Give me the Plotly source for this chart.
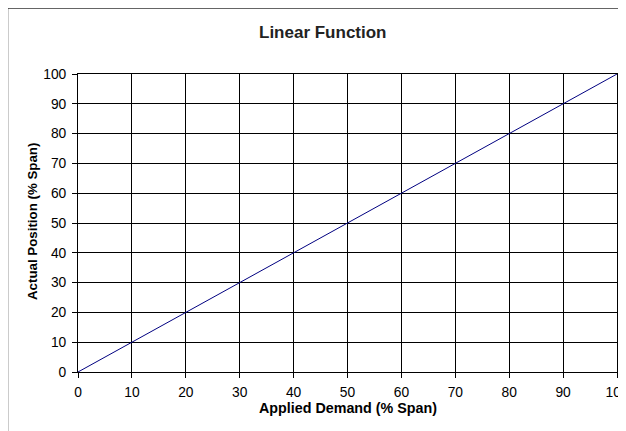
import plotly.graph_objects as go

# Data
applied_demand = [0, 10, 20, 30, 40, 50, 60, 70, 80, 90, 100]
actual_position = [0, 10, 20, 30, 40, 50, 60, 70, 80, 90, 100]
tick_values = [0, 10, 20, 30, 40, 50, 60, 70, 80, 90, 100]

title_text = "Linear Function"
x_title = "Applied Demand (% Span)"
y_title = "Actual Position (% Span)"

FONT = "Liberation Sans, Arial, sans-serif"

fig = go.Figure()
fig.add_trace(go.Scatter(
    x=applied_demand, y=actual_position, mode="lines",
    line=dict(color="#000080", width=1), showlegend=False,
))

axis_common = dict(
    range=[0, 100], tickvals=tick_values, ticks="outside", ticklen=5,
    tickcolor="#000", tickwidth=1,
    showgrid=True, gridcolor="#000", gridwidth=1,
    showline=True, linecolor="#000", linewidth=1, mirror=True,
    zeroline=False, tickfont=dict(family=FONT, size=13.8, color="#000"),
    fixedrange=True, ticklabeloverflow="allow", automargin=False,
)

fig.update_xaxes(**axis_common, ticklabelstandoff=2)
fig.update_yaxes(**axis_common, ticklabelstandoff=3)

# page has an 8px body margin, so figure coordinates = screen - 8
OFF = 8
W, H = 626 - OFF, 431 - OFF
L, R, T, B = 78 - OFF, 617 - OFF, 74 - OFF, 372 - OFF


def px(xs):
    return (xs - OFF - L) / (R - L)


def py(ys):
    return (B - (ys - OFF)) / (B - T)


annotations = [
    dict(text="<b>%s</b>" % title_text, x=px(323), y=py(32), xref="paper", yref="paper",
         showarrow=False, xanchor="center", yanchor="middle",
         font=dict(family=FONT, size=17, color="#222")),
    dict(text="<b>%s</b>" % x_title, x=px(348), y=py(408), xref="paper", yref="paper",
         showarrow=False, xanchor="center", yanchor="middle",
         font=dict(family=FONT, size=14.3, color="#000")),
    dict(text="<b>%s</b>" % y_title, x=px(33), y=py(222), xref="paper", yref="paper",
         showarrow=False, xanchor="center", yanchor="middle", textangle=-90,
         font=dict(family=FONT, size=13.3, color="#000")),
]

shapes = [
    dict(type="rect", xref="paper", yref="paper",
         x0=px(7.5), y0=py(470), x1=px(680), y1=py(8),
         line=dict(color="#333", width=1.5), fillcolor="rgba(0,0,0,0)", layer="below"),
]

fig.update_layout(
    width=W, height=H,
    margin=dict(l=L, r=W - R, t=T, b=H - B),
    paper_bgcolor="white", plot_bgcolor="white",
    annotations=annotations, shapes=shapes,
    font=dict(family=FONT),
)

fig.write_html("out.html", config={"displayModeBar": False})
